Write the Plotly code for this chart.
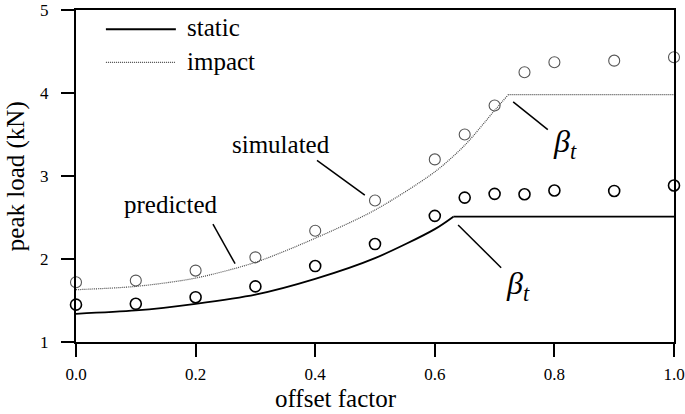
import plotly.graph_objects as go

# ---- data ----
static_pred_x = [0.0, 0.1, 0.2, 0.3, 0.4, 0.5, 0.6, 0.631]
static_pred_y = [1.34, 1.38, 1.46, 1.57, 1.76, 2.01, 2.36, 2.51]
static_flat_x = [0.631, 1.0]
static_flat_y = [2.51, 2.51]

impact_pred_x = [0.0, 0.1, 0.2, 0.3, 0.4, 0.5, 0.6, 0.65, 0.7, 0.723]
impact_pred_y = [1.63, 1.67, 1.77, 1.96, 2.25, 2.59, 3.05, 3.37, 3.79, 3.98]
impact_flat_x = [0.723, 1.0]
impact_flat_y = [3.98, 3.98]

sim_x = [0.0, 0.1, 0.2, 0.3, 0.4, 0.5, 0.6, 0.65, 0.7, 0.75, 0.8, 0.9, 1.0]
static_sim_y = [1.45, 1.46, 1.54, 1.67, 1.915, 2.18, 2.52, 2.74, 2.785, 2.78, 2.825, 2.82, 2.885]
impact_sim_y = [1.72, 1.74, 1.86, 2.02, 2.34, 2.705, 3.20, 3.50, 3.85, 4.25, 4.37, 4.39, 4.43]

x_ticks = [0.0, 0.2, 0.4, 0.6, 0.8, 1.0]
x_tick_labels = ["0.0", "0.2", "0.4", "0.6", "0.8", "1.0"]
y_ticks = [1, 2, 3, 4, 5]
y_tick_labels = ["1", "2", "3", "4", "5"]

FONT = "Liberation Serif"
STATIC_C = "#000000"
IMPACT_C = "#4a4a4a"

fig = go.Figure()

static_line = dict(color=STATIC_C, width=1.8)
impact_line = dict(color=IMPACT_C, width=1.2, dash="1px,1px")

fig.add_trace(go.Scatter(x=static_pred_x, y=static_pred_y, mode="lines",
                         line=dict(shape="spline", smoothing=0.8, **static_line),
                         showlegend=False, name="static"))
fig.add_trace(go.Scatter(x=static_flat_x, y=static_flat_y, mode="lines",
                         line=static_line, showlegend=False, cliponaxis=False))
fig.add_trace(go.Scatter(x=impact_pred_x, y=impact_pred_y, mode="lines",
                         line=dict(shape="spline", smoothing=0.8, **impact_line),
                         showlegend=False, name="impact"))
fig.add_trace(go.Scatter(x=impact_flat_x, y=impact_flat_y, mode="lines",
                         line=impact_line, showlegend=False, cliponaxis=False))

fig.add_trace(go.Scatter(x=sim_x, y=static_sim_y, mode="markers",
                         marker=dict(symbol="circle-open", size=11,
                                     color=STATIC_C, line=dict(width=1.6)),
                         showlegend=False, cliponaxis=False))
fig.add_trace(go.Scatter(x=sim_x, y=impact_sim_y, mode="markers",
                         marker=dict(symbol="circle-open", size=11,
                                     color="#555555", line=dict(width=1.1)),
                         showlegend=False, cliponaxis=False))

# manual legend (line samples + labels)
shapes = [
    dict(type="line", xref="paper", yref="paper", x0=0.050, x1=0.167, y0=0.942, y1=0.942,
         line=static_line),
    dict(type="line", xref="paper", yref="paper", x0=0.050, x1=0.167, y0=0.842, y1=0.842,
         line=impact_line),
    # leader lines
    dict(type="line", x0=0.403, y0=3.188, x1=0.483, y1=2.769, line=dict(color="black", width=1.5)),
    dict(type="line", x0=0.229, y0=2.42, x1=0.266, y1=1.943, line=dict(color="black", width=1.5)),
    dict(type="line", x0=0.731, y0=3.894, x1=0.789, y1=3.559, line=dict(color="black", width=1.5)),
    dict(type="line", x0=0.639, y0=2.41, x1=0.711, y1=1.895, line=dict(color="black", width=1.5)),
]

annotations = [
    dict(text="static", xref="paper", yref="paper", x=0.182, y=0.947, xanchor="left",
         yanchor="middle", showarrow=False, font=dict(family=FONT, size=25, color="black")),
    dict(text="impact", xref="paper", yref="paper", x=0.182, y=0.846, xanchor="left",
         yanchor="middle", showarrow=False, font=dict(family=FONT, size=25, color="black")),
    dict(text="simulated", x=0.342, y=3.38, xanchor="center", yanchor="middle",
         showarrow=False, font=dict(family=FONT, size=25, color="black")),
    dict(text="predicted", x=0.159, y=2.66, xanchor="center", yanchor="middle",
         showarrow=False, font=dict(family=FONT, size=25, color="black")),
    dict(text="<i>β</i><sub><i>t</i></sub>", x=0.818, y=3.39, xanchor="center", yanchor="middle",
         showarrow=False, font=dict(family=FONT, size=32, color="black")),
    dict(text="<i>β</i><sub><i>t</i></sub>", x=0.739, y=1.68, xanchor="center", yanchor="middle",
         showarrow=False, font=dict(family=FONT, size=32, color="black")),
    dict(text="offset factor", xref="paper", yref="paper", x=0.435, y=-0.17,
         xanchor="center", yanchor="middle", showarrow=False,
         font=dict(family=FONT, size=25, color="black")),
    dict(text="peak load (kN)", xref="paper", yref="paper", x=-0.1, y=0.5,
         xanchor="center", yanchor="middle", textangle=-90, showarrow=False,
         font=dict(family=FONT, size=25, color="black")),
]

tickfont = dict(family=FONT, size=17, color="black")

fig.update_layout(
    width=685, height=414,
    margin=dict(l=76, r=11, t=10, b=72, autoexpand=False),
    paper_bgcolor="white", plot_bgcolor="white",
    showlegend=False,
    shapes=shapes, annotations=annotations,
    xaxis=dict(range=[0, 1], tickmode="array", tickvals=x_ticks, ticktext=x_tick_labels,
               showgrid=False, zeroline=False, showline=True, linecolor="black",
               linewidth=2, mirror=True, ticks="outside", ticklen=13, tickwidth=1.5,
               tickcolor="black", tickfont=tickfont, automargin=False,
               ticklabelstandoff=3),
    yaxis=dict(range=[1, 5], tickmode="array", tickvals=y_ticks, ticktext=y_tick_labels,
               showgrid=False, zeroline=False, showline=True, linecolor="black",
               linewidth=2, mirror=True, ticks="outside", ticklen=13, tickwidth=1.5,
               tickcolor="black", tickfont=tickfont, automargin=False,
               ticklabelstandoff=9),
)

fig.write_html("out.html", config={"displayModeBar": False},
               post_script="document.body.style.margin='0';document.body.style.overflow='hidden';")
